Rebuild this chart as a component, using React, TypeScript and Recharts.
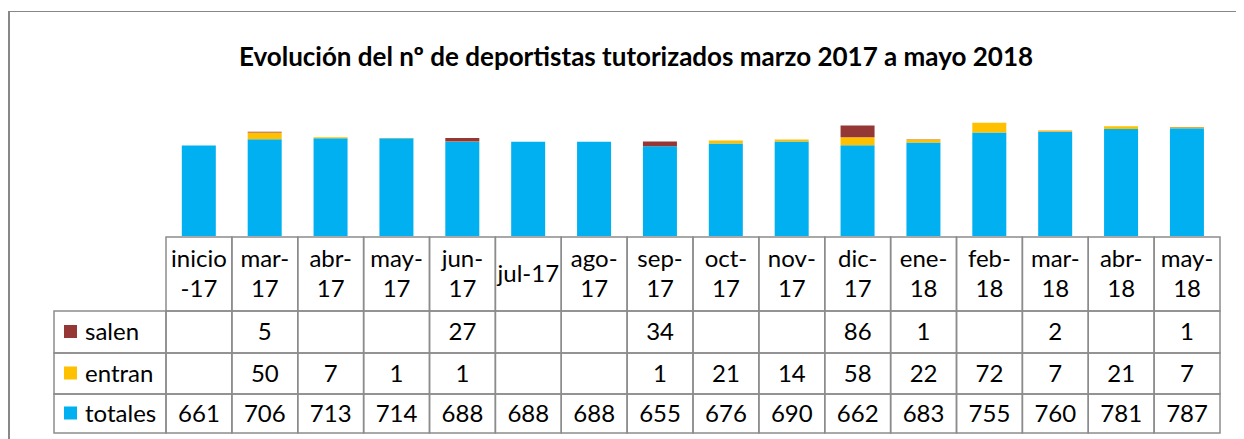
import { BarChart, Bar, XAxis, YAxis } from 'recharts';

// header labels of the data table (line break where Excel wrapped them)
const categories = [
  'inicio\n-17', 'mar-\n17', 'abr-\n17', 'may-\n17', 'jun-\n17', 'jul-17', 'ago-\n17', 'sep-\n17',
  'oct-\n17', 'nov-\n17', 'dic-\n17', 'ene-\n18', 'feb-\n18', 'mar-\n18', 'abr-\n18', 'may-\n18',
];
const salen = [null, 5, null, null, 27, null, null, 34, null, null, 86, 1, null, 2, null, 1];
const entran = [null, 50, 7, 1, 1, null, null, 1, 21, 14, 58, 22, 72, 7, 21, 7];
const totales = [661, 706, 713, 714, 688, 688, 688, 655, 676, 690, 662, 683, 755, 760, 781, 787];

const seriesNames = ['salen', 'entran', 'totales'];
const seriesValues = [salen, entran, totales];
const colors: Record<string, string> = { salen: '#953735', entran: '#FFC000', totales: '#00B0F0' };

const data = categories.map((c, i) => ({
  name: c,
  totales: totales[i] ?? 0,
  entran: entran[i] ?? 0,
  salen: salen[i] ?? 0,
}));

const FONT = 'Lato, "Noto Sans", sans-serif';
const CHART_W = 1234;
const CHART_H = 427;
const MARGIN = { top: 87, right: 24, bottom: 0, left: 156 };
const COL_W = (CHART_W - MARGIN.left - MARGIN.right) / categories.length;
const ROW_H = [74, 42, 41, 39];
const GRID = '#8c8c8c';

const TableColumn = (props: any) => {
  const { x, y, payload } = props;
  const i = payload.index;
  const left = x - COL_W / 2;
  const top = y + 1;
  const lines = String(payload.value).split('\n');
  const rowTops = [top];
  for (let r = 1; r < ROW_H.length; r++) rowTops.push(rowTops[r - 1] + ROW_H[r - 1]);

  return (
    <g fontFamily={FONT} fontSize={24} fill="#000">
      {ROW_H.map((h, r) => (
        <rect key={r} x={left} y={rowTops[r]} width={COL_W} height={h} fill="none" stroke={GRID} strokeWidth={1.5} />
      ))}
      {lines.length === 1 ? (
        <text x={x} y={top + 45} textAnchor="middle">{lines[0]}</text>
      ) : (
        lines.map((l, k) => (
          <text key={k} x={x} y={top + 30 + k * 30} textAnchor="middle">{l}</text>
        ))
      )}
      {seriesNames.map((s, r) => {
        const v = seriesValues[r][i];
        const rt = rowTops[r + 1];
        return (
          <text key={s} x={x} y={rt + ROW_H[r + 1] / 2 + 8} textAnchor="middle">
            {v == null ? '' : v}
          </text>
        );
      })}
      {i === 0 &&
        seriesNames.map((s, r) => {
          const rt = rowTops[r + 1];
          const h = ROW_H[r + 1];
          return (
            <g key={'lg' + s}>
              <rect x={left - 112} y={rt} width={112} height={h} fill="none" stroke={GRID} strokeWidth={1.5} />
              <rect x={left - 102} y={rt + h / 2 - 7} width={13} height={13} fill={colors[s]} />
              <text x={left - 81} y={rt + h / 2 + 8} textAnchor="start">{s}</text>
            </g>
          );
        })}
    </g>
  );
};

export default function App() {
  return (
    <div
      style={{
        position: 'relative',
        marginTop: 3,
        width: CHART_W,
        height: CHART_H,
        borderLeft: '2px solid #888',
        borderTop: '1px solid #888',
        background: '#fff',
      }}
    >
      <div
        style={{
          position: 'absolute',
          left: 0,
          right: 0,
          top: 29,
          paddingLeft: 18,
          textAlign: 'center',
          fontFamily: FONT,
          fontWeight: 'bold',
          fontSize: 26,
          lineHeight: '30px',
          color: '#000',
        }}
      >
        Evolución del nº de deportistas tutorizados marzo 2017 a mayo 2018
      </div>
      <BarChart width={CHART_W} height={CHART_H} data={data} margin={MARGIN} barCategoryGap="24%">
        <XAxis
          dataKey="name"
          axisLine={false}
          tickLine={false}
          tickSize={0}
          tickMargin={0}
          height={CHART_H - MARGIN.top - 137}
          interval={0}
          tick={<TableColumn />}
        />
        <YAxis hide domain={[0, 1000]} />
        <Bar dataKey="totales" stackId="a" fill={colors.totales} isAnimationActive={false} />
        <Bar dataKey="entran" stackId="a" fill={colors.entran} isAnimationActive={false} />
        <Bar dataKey="salen" stackId="a" fill={colors.salen} isAnimationActive={false} />
      </BarChart>
    </div>
  );
}
